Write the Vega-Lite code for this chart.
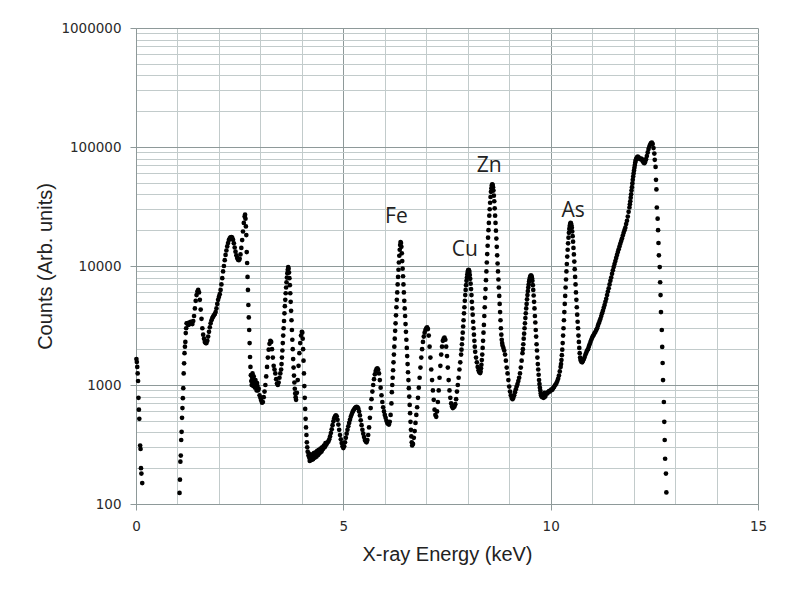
{
  "$schema": "https://vega.github.io/schema/vega-lite/v6.json",
  "width": 622,
  "height": 476,
  "autosize": {"type": "none"},
  "padding": {"left": 136, "top": 28, "right": 33, "bottom": 89},
  "background": "white",
  "config": {"view": {"stroke": null}},
  "datasets": {
    "spectrum": [
      {"keV":0.01,"counts":1650},{"keV":0.02,"counts":1560},{"keV":0.03,"counts":1420},{"keV":0.04,"counts":1250},{"keV":0.05,"counts":1080},{"keV":0.06,"counts":780},{"keV":0.07,"counts":620},{"keV":0.08,"counts":520},{"keV":0.10,"counts":310},{"keV":0.11,"counts":290},{"keV":0.12,"counts":200},{"keV":0.13,"counts":180},{"keV":0.15,"counts":150},
      {"keV":1.05,"counts":124},{"keV":1.06,"counts":160},{"keV":1.07,"counts":227},{"keV":1.08,"counts":255},{"keV":1.09,"counts":345},{"keV":1.10,"counts":404},{"keV":1.11,"counts":530},{"keV":1.12,"counts":640},{"keV":1.13,"counts":775},{"keV":1.14,"counts":940},{"keV":1.15,"counts":1250},{"keV":1.16,"counts":1520},{"keV":1.17,"counts":1850},{"keV":1.18,"counts":2100},{"keV":1.19,"counts":2300},{"keV":1.20,"counts":2730},{"keV":1.21,"counts":3000},{"keV":1.22,"counts":3300},
      {"keV":1.24,"counts":3300},{"keV":1.26,"counts":3200},{"keV":1.28,"counts":3350},{"keV":1.30,"counts":3250},{"keV":1.32,"counts":3400},{"keV":1.34,"counts":3300},{"keV":1.36,"counts":3250},{"keV":1.38,"counts":3450},{"keV":1.40,"counts":3800},{"keV":1.42,"counts":4400},{"keV":1.44,"counts":5100},{"keV":1.46,"counts":5700},{"keV":1.48,"counts":6100},{"keV":1.50,"counts":6300},{"keV":1.52,"counts":6000},{"keV":1.54,"counts":5200},{"keV":1.56,"counts":4300},{"keV":1.58,"counts":3600},{"keV":1.60,"counts":3000},{"keV":1.62,"counts":2650},{"keV":1.64,"counts":2450},{"keV":1.66,"counts":2300},{"keV":1.68,"counts":2250},{"keV":1.70,"counts":2250},{"keV":1.72,"counts":2350},{"keV":1.74,"counts":2550},{"keV":1.76,"counts":2800},{"keV":1.78,"counts":3050},{"keV":1.80,"counts":3300},{"keV":1.82,"counts":3500},{"keV":1.84,"counts":3650},{"keV":1.86,"counts":3750},{"keV":1.88,"counts":3850},{"keV":1.90,"counts":3950},{"keV":1.92,"counts":4100},{"keV":1.94,"counts":4400},{"keV":1.96,"counts":4800},{"keV":1.98,"counts":5200},{"keV":2.00,"counts":5500},{"keV":2.02,"counts":5800},{"keV":2.04,"counts":6300},{"keV":2.06,"counts":7000},{"keV":2.08,"counts":7900},{"keV":2.10,"counts":9000},{"keV":2.12,"counts":10000},{"keV":2.14,"counts":11200},{"keV":2.16,"counts":12400},{"keV":2.18,"counts":13500},{"keV":2.20,"counts":14600},{"keV":2.22,"counts":15600},{"keV":2.24,"counts":16500},{"keV":2.26,"counts":17100},{"keV":2.28,"counts":17400},{"keV":2.30,"counts":17500},{"keV":2.32,"counts":17300},{"keV":2.34,"counts":16600},{"keV":2.36,"counts":15500},{"keV":2.38,"counts":14300},{"keV":2.40,"counts":13200},{"keV":2.42,"counts":12300},{"keV":2.44,"counts":11700},{"keV":2.46,"counts":11300},{"keV":2.48,"counts":11200},{"keV":2.50,"counts":11500},{"keV":2.52,"counts":12500},{"keV":2.54,"counts":14200},{"keV":2.56,"counts":16500},{"keV":2.58,"counts":19500},{"keV":2.60,"counts":23000},{"keV":2.62,"counts":26000},{"keV":2.63,"counts":27000},
      {"keV":2.64,"counts":25000},{"keV":2.65,"counts":21500},{"keV":2.66,"counts":18200},{"keV":2.67,"counts":13100},{"keV":2.68,"counts":10600},{"keV":2.69,"counts":8100},{"keV":2.70,"counts":6300},{"keV":2.71,"counts":4700},{"keV":2.72,"counts":3700},{"keV":2.73,"counts":2900},{"keV":2.74,"counts":2250},{"keV":2.75,"counts":1720},{"keV":2.76,"counts":1420},{"keV":2.77,"counts":1210},{"keV":2.78,"counts":1080},
      {"keV":2.79,"counts":1000},{"keV":2.80,"counts":1150},{"keV":2.81,"counts":1250},{"keV":2.82,"counts":1030},{"keV":2.83,"counts":980},{"keV":2.84,"counts":1180},{"keV":2.85,"counts":1100},{"keV":2.86,"counts":1000},{"keV":2.87,"counts":950},{"keV":2.88,"counts":1100},{"keV":2.89,"counts":1050},{"keV":2.90,"counts":960},{"keV":2.91,"counts":900},{"keV":2.92,"counts":1040},{"keV":2.93,"counts":980},{"keV":2.94,"counts":900},{"keV":2.96,"counts":930},{"keV":2.98,"counts":820},{"keV":3.00,"counts":780},{"keV":3.02,"counts":740},{"keV":3.04,"counts":710},{"keV":3.06,"counts":720},{"keV":3.08,"counts":790},{"keV":3.10,"counts":880},{"keV":3.12,"counts":1000},{"keV":3.14,"counts":1180},{"keV":3.16,"counts":1420},{"keV":3.18,"counts":1700},{"keV":3.20,"counts":1980},{"keV":3.22,"counts":2220},{"keV":3.24,"counts":2350},{"keV":3.26,"counts":2300},{"keV":3.28,"counts":2000},{"keV":3.30,"counts":1700},{"keV":3.32,"counts":1450},{"keV":3.34,"counts":1350},{"keV":3.36,"counts":1250},{"keV":3.38,"counts":1120},{"keV":3.40,"counts":1030},{"keV":3.42,"counts":1000},{"keV":3.44,"counts":1050},{"keV":3.46,"counts":1150},{"keV":3.48,"counts":1250},
      {"keV":3.50,"counts":1350},{"keV":3.51,"counts":1500},{"keV":3.52,"counts":1700},{"keV":3.53,"counts":1950},{"keV":3.54,"counts":2250},{"keV":3.55,"counts":2600},{"keV":3.56,"counts":3000},{"keV":3.57,"counts":3450},{"keV":3.58,"counts":4000},{"keV":3.59,"counts":4600},{"keV":3.60,"counts":5200},{"keV":3.61,"counts":5900},{"keV":3.62,"counts":6600},{"keV":3.63,"counts":7300},{"keV":3.64,"counts":8000},{"keV":3.65,"counts":8700},{"keV":3.66,"counts":9300},{"keV":3.67,"counts":9800},{"keV":3.68,"counts":9500},{"keV":3.69,"counts":8800},{"keV":3.70,"counts":7900},{"keV":3.71,"counts":6900},{"keV":3.72,"counts":5900},{"keV":3.73,"counts":5000},{"keV":3.74,"counts":4200},{"keV":3.75,"counts":3500},{"keV":3.76,"counts":2900},{"keV":3.77,"counts":2400},{"keV":3.78,"counts":2000},{"keV":3.79,"counts":1650},{"keV":3.80,"counts":1400},{"keV":3.81,"counts":1200},{"keV":3.82,"counts":1050},{"keV":3.83,"counts":930},{"keV":3.84,"counts":850},{"keV":3.85,"counts":790},{"keV":3.86,"counts":750},
      {"keV":3.88,"counts":860},{"keV":3.90,"counts":1100},{"keV":3.92,"counts":1450},{"keV":3.94,"counts":1850},{"keV":3.96,"counts":2250},{"keV":3.98,"counts":2600},{"keV":4.00,"counts":2800},{"keV":4.01,"counts":2750},{"keV":4.02,"counts":2450},{"keV":4.03,"counts":2000},{"keV":4.04,"counts":1600},{"keV":4.05,"counts":1250},{"keV":4.06,"counts":980},{"keV":4.07,"counts":780},{"keV":4.08,"counts":630},{"keV":4.09,"counts":520},{"keV":4.10,"counts":440},{"keV":4.11,"counts":380},{"keV":4.12,"counts":330},{"keV":4.13,"counts":300},{"keV":4.14,"counts":275},
      {"keV":4.16,"counts":255},{"keV":4.17,"counts":265},{"keV":4.18,"counts":245},{"keV":4.19,"counts":230},{"keV":4.20,"counts":240},{"keV":4.21,"counts":258},{"keV":4.22,"counts":250},{"keV":4.23,"counts":240},{"keV":4.24,"counts":235},{"keV":4.25,"counts":262},{"keV":4.26,"counts":250},{"keV":4.27,"counts":238},{"keV":4.28,"counts":245},{"keV":4.29,"counts":268},{"keV":4.30,"counts":258},{"keV":4.31,"counts":245},{"keV":4.32,"counts":250},{"keV":4.33,"counts":272},{"keV":4.34,"counts":262},{"keV":4.35,"counts":250},{"keV":4.36,"counts":255},{"keV":4.37,"counts":280},{"keV":4.38,"counts":268},{"keV":4.39,"counts":258},{"keV":4.40,"counts":262},{"keV":4.41,"counts":285},{"keV":4.42,"counts":275},{"keV":4.43,"counts":268},{"keV":4.44,"counts":272},{"keV":4.45,"counts":292},{"keV":4.46,"counts":285},{"keV":4.47,"counts":275},{"keV":4.48,"counts":282},{"keV":4.49,"counts":300},{"keV":4.50,"counts":295},{"keV":4.51,"counts":290},{"keV":4.52,"counts":298},{"keV":4.53,"counts":310},{"keV":4.54,"counts":305},{"keV":4.55,"counts":300},{"keV":4.56,"counts":310},{"keV":4.57,"counts":325},{"keV":4.58,"counts":318},{"keV":4.59,"counts":315},{"keV":4.60,"counts":325},{"keV":4.62,"counts":330},{"keV":4.64,"counts":335},{"keV":4.66,"counts":350},{"keV":4.68,"counts":370},{"keV":4.70,"counts":395},{"keV":4.72,"counts":425},{"keV":4.74,"counts":460},{"keV":4.76,"counts":495},{"keV":4.78,"counts":525},{"keV":4.80,"counts":545},{"keV":4.82,"counts":555},{"keV":4.84,"counts":545},{"keV":4.86,"counts":510},{"keV":4.88,"counts":465},{"keV":4.90,"counts":420},{"keV":4.92,"counts":380},{"keV":4.94,"counts":350},{"keV":4.96,"counts":325},{"keV":4.98,"counts":305},{"keV":5.00,"counts":295},{"keV":5.02,"counts":305},{"keV":5.04,"counts":330},{"keV":5.06,"counts":360},{"keV":5.08,"counts":390},{"keV":5.10,"counts":420},{"keV":5.12,"counts":450},{"keV":5.14,"counts":480},{"keV":5.16,"counts":510},{"keV":5.18,"counts":540},{"keV":5.20,"counts":565},{"keV":5.22,"counts":590},{"keV":5.24,"counts":610},{"keV":5.26,"counts":625},{"keV":5.28,"counts":640},{"keV":5.30,"counts":650},{"keV":5.32,"counts":655},{"keV":5.34,"counts":650},{"keV":5.36,"counts":635},{"keV":5.38,"counts":600},{"keV":5.40,"counts":555},{"keV":5.42,"counts":505},{"keV":5.44,"counts":460},{"keV":5.46,"counts":420},{"keV":5.48,"counts":390},{"keV":5.50,"counts":365},{"keV":5.52,"counts":345},{"keV":5.54,"counts":335},{"keV":5.56,"counts":330},{"keV":5.58,"counts":345},{"keV":5.60,"counts":380},{"keV":5.62,"counts":440},{"keV":5.64,"counts":530},{"keV":5.66,"counts":640},{"keV":5.68,"counts":760},{"keV":5.70,"counts":880},{"keV":5.72,"counts":1000},{"keV":5.74,"counts":1120},{"keV":5.76,"counts":1230},{"keV":5.78,"counts":1310},{"keV":5.80,"counts":1360},{"keV":5.82,"counts":1380},{"keV":5.84,"counts":1350},{"keV":5.86,"counts":1250},{"keV":5.88,"counts":1100},{"keV":5.90,"counts":950},{"keV":5.92,"counts":820},{"keV":5.94,"counts":720},{"keV":5.96,"counts":650},{"keV":5.98,"counts":600},{"keV":6.00,"counts":560},{"keV":6.02,"counts":530},{"keV":6.04,"counts":500},{"keV":6.06,"counts":480},{"keV":6.08,"counts":470},{"keV":6.10,"counts":465},{"keV":6.12,"counts":490},{"keV":6.14,"counts":560},{"keV":6.16,"counts":700},
      {"keV":6.17,"counts":870},{"keV":6.18,"counts":1000},{"keV":6.19,"counts":1150},{"keV":6.20,"counts":1330},{"keV":6.21,"counts":1550},{"keV":6.22,"counts":1800},{"keV":6.23,"counts":2100},{"keV":6.24,"counts":2450},{"keV":6.25,"counts":2850},{"keV":6.26,"counts":3300},{"keV":6.27,"counts":3850},{"keV":6.28,"counts":4500},{"keV":6.29,"counts":5200},{"keV":6.30,"counts":6000},{"keV":6.31,"counts":7000},{"keV":6.32,"counts":8100},{"keV":6.33,"counts":9300},{"keV":6.34,"counts":10700},{"keV":6.35,"counts":12200},{"keV":6.36,"counts":13700},{"keV":6.37,"counts":15000},{"keV":6.38,"counts":15900},{"keV":6.39,"counts":15600},{"keV":6.40,"counts":14500},{"keV":6.41,"counts":12800},{"keV":6.42,"counts":11000},{"keV":6.43,"counts":9500},{"keV":6.44,"counts":8200},{"keV":6.45,"counts":7000},{"keV":6.46,"counts":6000},{"keV":6.47,"counts":5100},{"keV":6.48,"counts":4400},{"keV":6.49,"counts":3800},{"keV":6.50,"counts":3250},{"keV":6.51,"counts":2800},{"keV":6.52,"counts":2400},{"keV":6.53,"counts":2050},{"keV":6.54,"counts":1750},{"keV":6.55,"counts":1500},{"keV":6.56,"counts":1280},{"keV":6.57,"counts":1100},{"keV":6.58,"counts":940},{"keV":6.59,"counts":800},{"keV":6.60,"counts":680},{"keV":6.61,"counts":580},{"keV":6.62,"counts":490},{"keV":6.63,"counts":420},{"keV":6.64,"counts":370},{"keV":6.65,"counts":330},{"keV":6.66,"counts":310},{"keV":6.68,"counts":320},
      {"keV":6.70,"counts":360},{"keV":6.72,"counts":410},{"keV":6.74,"counts":480},{"keV":6.76,"counts":560},{"keV":6.78,"counts":650},{"keV":6.80,"counts":780},{"keV":6.82,"counts":950},{"keV":6.84,"counts":1150},{"keV":6.86,"counts":1400},{"keV":6.88,"counts":1700},{"keV":6.90,"counts":2000},{"keV":6.92,"counts":2300},{"keV":6.94,"counts":2550},{"keV":6.96,"counts":2750},{"keV":6.98,"counts":2900},{"keV":7.00,"counts":3000},{"keV":7.02,"counts":3050},{"keV":7.04,"counts":2950},{"keV":7.06,"counts":2600},{"keV":7.08,"counts":2100},{"keV":7.10,"counts":1700},{"keV":7.12,"counts":1350},{"keV":7.14,"counts":1100},{"keV":7.16,"counts":900},{"keV":7.18,"counts":750},{"keV":7.20,"counts":620},{"keV":7.22,"counts":560},{"keV":7.24,"counts":540},{"keV":7.26,"counts":600},{"keV":7.28,"counts":720},{"keV":7.30,"counts":900},{"keV":7.32,"counts":1150},{"keV":7.34,"counts":1450},{"keV":7.36,"counts":1800},{"keV":7.38,"counts":2100},{"keV":7.40,"counts":2350},{"keV":7.42,"counts":2450},{"keV":7.44,"counts":2500},{"keV":7.46,"counts":2400},{"keV":7.48,"counts":2100},{"keV":7.50,"counts":1750},{"keV":7.52,"counts":1400},{"keV":7.54,"counts":1100},{"keV":7.56,"counts":900},{"keV":7.58,"counts":780},{"keV":7.60,"counts":700},{"keV":7.62,"counts":660},{"keV":7.64,"counts":640},{"keV":7.66,"counts":650},{"keV":7.68,"counts":660},{"keV":7.70,"counts":690},{"keV":7.72,"counts":760},{"keV":7.74,"counts":880},{"keV":7.76,"counts":1000},{"keV":7.78,"counts":1150},{"keV":7.80,"counts":1350},{"keV":7.82,"counts":1550},
      {"keV":7.84,"counts":1800},{"keV":7.85,"counts":1980},{"keV":7.86,"counts":2200},{"keV":7.87,"counts":2450},{"keV":7.88,"counts":2750},{"keV":7.89,"counts":3100},{"keV":7.90,"counts":3500},{"keV":7.91,"counts":4000},{"keV":7.92,"counts":4500},{"keV":7.93,"counts":5100},{"keV":7.94,"counts":5700},{"keV":7.95,"counts":6300},{"keV":7.96,"counts":6900},{"keV":7.97,"counts":7500},{"keV":7.98,"counts":8000},{"keV":7.99,"counts":8500},{"keV":8.00,"counts":8900},{"keV":8.01,"counts":9200},{"keV":8.02,"counts":9300},{"keV":8.03,"counts":9200},{"keV":8.04,"counts":8900},{"keV":8.05,"counts":8400},{"keV":8.06,"counts":7800},{"keV":8.07,"counts":7100},{"keV":8.08,"counts":6400},{"keV":8.09,"counts":5700},{"keV":8.10,"counts":5000},{"keV":8.11,"counts":4400},{"keV":8.12,"counts":3900},{"keV":8.13,"counts":3400},{"keV":8.14,"counts":3000},{"keV":8.15,"counts":2650},{"keV":8.16,"counts":2350},{"keV":8.17,"counts":2100},{"keV":8.18,"counts":1900},{"keV":8.20,"counts":1700},{"keV":8.22,"counts":1550},{"keV":8.24,"counts":1420},{"keV":8.26,"counts":1330},{"keV":8.28,"counts":1280},{"keV":8.30,"counts":1260},
      {"keV":8.31,"counts":1300},{"keV":8.32,"counts":1380},{"keV":8.33,"counts":1480},{"keV":8.34,"counts":1620},{"keV":8.35,"counts":1800},{"keV":8.36,"counts":2050},{"keV":8.37,"counts":2350},{"keV":8.38,"counts":2750},{"keV":8.39,"counts":3200},{"keV":8.40,"counts":3800},{"keV":8.41,"counts":4500},{"keV":8.42,"counts":5400},{"keV":8.43,"counts":6400},{"keV":8.44,"counts":7600},{"keV":8.45,"counts":9000},{"keV":8.46,"counts":10700},{"keV":8.47,"counts":12600},{"keV":8.48,"counts":14800},{"keV":8.49,"counts":17300},{"keV":8.50,"counts":20000},{"keV":8.51,"counts":23000},{"keV":8.52,"counts":26500},{"keV":8.53,"counts":30000},{"keV":8.54,"counts":34000},{"keV":8.55,"counts":38000},{"keV":8.56,"counts":42000},{"keV":8.57,"counts":45000},{"keV":8.58,"counts":47500},{"keV":8.59,"counts":48500},{"keV":8.60,"counts":48000},{"keV":8.61,"counts":46000},{"keV":8.62,"counts":43000},{"keV":8.63,"counts":39000},{"keV":8.64,"counts":35000},{"keV":8.65,"counts":30500},{"keV":8.66,"counts":26500},{"keV":8.67,"counts":23000},{"keV":8.68,"counts":19800},{"keV":8.69,"counts":17000},{"keV":8.70,"counts":14500},{"keV":8.71,"counts":12300},{"keV":8.72,"counts":10500},{"keV":8.73,"counts":9000},{"keV":8.74,"counts":7700},{"keV":8.75,"counts":6600},{"keV":8.76,"counts":5600},{"keV":8.77,"counts":4800},{"keV":8.78,"counts":4100},{"keV":8.79,"counts":3500},{"keV":8.80,"counts":3000},{"keV":8.81,"counts":2650},{"keV":8.82,"counts":2400},{"keV":8.83,"counts":2250},{"keV":8.84,"counts":2150},{"keV":8.86,"counts":2050},{"keV":8.88,"counts":1950},{"keV":8.90,"counts":1800},{"keV":8.92,"counts":1600},{"keV":8.94,"counts":1400},{"keV":8.96,"counts":1250},{"keV":8.98,"counts":1100},{"keV":9.00,"counts":970},{"keV":9.02,"counts":880},{"keV":9.04,"counts":820},{"keV":9.06,"counts":780},{"keV":9.08,"counts":760},{"keV":9.10,"counts":780},{"keV":9.12,"counts":820},{"keV":9.14,"counts":870},{"keV":9.16,"counts":920},{"keV":9.18,"counts":970},{"keV":9.20,"counts":1020},{"keV":9.22,"counts":1080},{"keV":9.24,"counts":1150},{"keV":9.26,"counts":1250},{"keV":9.28,"counts":1400},{"keV":9.30,"counts":1600},{"keV":9.32,"counts":1850},{"keV":9.33,"counts":2000},{"keV":9.34,"counts":2200},{"keV":9.35,"counts":2450},{"keV":9.36,"counts":2700},{"keV":9.37,"counts":3000},{"keV":9.38,"counts":3300},{"keV":9.39,"counts":3650},{"keV":9.40,"counts":4000},{"keV":9.41,"counts":4400},{"keV":9.42,"counts":4800},{"keV":9.43,"counts":5250},{"keV":9.44,"counts":5700},{"keV":9.45,"counts":6150},{"keV":9.46,"counts":6600},{"keV":9.47,"counts":7000},{"keV":9.48,"counts":7400},{"keV":9.49,"counts":7700},{"keV":9.50,"counts":8000},{"keV":9.51,"counts":8200},{"keV":9.52,"counts":8300},{"keV":9.53,"counts":8300},{"keV":9.54,"counts":8200},{"keV":9.55,"counts":7900},{"keV":9.56,"counts":7500},{"keV":9.57,"counts":6900},{"keV":9.58,"counts":6300},{"keV":9.59,"counts":5650},{"keV":9.60,"counts":5000},{"keV":9.61,"counts":4400},{"keV":9.62,"counts":3800},{"keV":9.63,"counts":3350},{"keV":9.64,"counts":2900},{"keV":9.65,"counts":2550},{"keV":9.66,"counts":2200},{"keV":9.67,"counts":1950},{"keV":9.68,"counts":1700},{"keV":9.69,"counts":1500},{"keV":9.70,"counts":1350},{"keV":9.71,"counts":1220},{"keV":9.72,"counts":1100},{"keV":9.73,"counts":1020},{"keV":9.74,"counts":950},{"keV":9.75,"counts":900},{"keV":9.76,"counts":850},{"keV":9.77,"counts":820},{"keV":9.78,"counts":800},
      {"keV":9.80,"counts":790},{"keV":9.81,"counts":830},{"keV":9.82,"counts":810},{"keV":9.83,"counts":780},{"keV":9.84,"counts":830},{"keV":9.85,"counts":860},{"keV":9.86,"counts":820},{"keV":9.87,"counts":800},{"keV":9.88,"counts":840},{"keV":9.90,"counts":860},{"keV":9.92,"counts":850},{"keV":9.94,"counts":870},{"keV":9.96,"counts":890},{"keV":9.98,"counts":880},{"keV":10.00,"counts":900},{"keV":10.02,"counts":920},{"keV":10.04,"counts":910},{"keV":10.06,"counts":940},{"keV":10.08,"counts":960},{"keV":10.10,"counts":990},{"keV":10.12,"counts":1010},{"keV":10.14,"counts":1040},{"keV":10.16,"counts":1080},{"keV":10.18,"counts":1130},{"keV":10.20,"counts":1200},{"keV":10.22,"counts":1300},{"keV":10.24,"counts":1420},
      {"keV":10.25,"counts":1500},{"keV":10.26,"counts":1620},{"keV":10.27,"counts":1780},{"keV":10.28,"counts":1980},{"keV":10.29,"counts":2250},{"keV":10.30,"counts":2600},{"keV":10.31,"counts":3000},{"keV":10.32,"counts":3500},{"keV":10.33,"counts":4100},{"keV":10.34,"counts":4800},{"keV":10.35,"counts":5600},{"keV":10.36,"counts":6600},{"keV":10.37,"counts":7700},{"keV":10.38,"counts":9000},{"keV":10.39,"counts":10400},{"keV":10.40,"counts":12000},{"keV":10.41,"counts":13700},{"keV":10.42,"counts":15500},{"keV":10.43,"counts":17300},{"keV":10.44,"counts":19000},{"keV":10.45,"counts":20500},{"keV":10.46,"counts":21700},{"keV":10.47,"counts":22500},{"keV":10.48,"counts":23000},{"keV":10.49,"counts":22800},{"keV":10.50,"counts":22000},{"keV":10.51,"counts":21000},{"keV":10.52,"counts":19500},{"keV":10.53,"counts":17800},{"keV":10.54,"counts":16000},{"keV":10.55,"counts":14200},{"keV":10.56,"counts":12500},{"keV":10.57,"counts":10900},{"keV":10.58,"counts":9400},{"keV":10.59,"counts":8100},{"keV":10.60,"counts":7000},{"keV":10.61,"counts":6000},{"keV":10.62,"counts":5200},{"keV":10.63,"counts":4500},{"keV":10.64,"counts":3900},{"keV":10.65,"counts":3400},{"keV":10.66,"counts":3000},{"keV":10.67,"counts":2600},{"keV":10.68,"counts":2300},{"keV":10.69,"counts":2050},{"keV":10.70,"counts":1850},{"keV":10.71,"counts":1700},{"keV":10.72,"counts":1620},{"keV":10.74,"counts":1570},{"keV":10.76,"counts":1550},{"keV":10.78,"counts":1600},
      {"keV":10.80,"counts":1650},{"keV":10.82,"counts":1720},{"keV":10.84,"counts":1800},{"keV":10.86,"counts":1880},{"keV":10.88,"counts":1950},{"keV":10.90,"counts":2000},{"keV":10.92,"counts":2100},{"keV":10.94,"counts":2200},{"keV":10.96,"counts":2300},{"keV":10.98,"counts":2400},{"keV":11.00,"counts":2500},{"keV":11.02,"counts":2580},{"keV":11.04,"counts":2650},{"keV":11.06,"counts":2730},{"keV":11.08,"counts":2800},{"keV":11.10,"counts":2900},{"keV":11.12,"counts":3000},{"keV":11.14,"counts":3150},{"keV":11.16,"counts":3300},{"keV":11.18,"counts":3450},{"keV":11.20,"counts":3600},{"keV":11.22,"counts":3800},{"keV":11.24,"counts":4000},{"keV":11.26,"counts":4200},{"keV":11.28,"counts":4450},{"keV":11.30,"counts":4700},{"keV":11.32,"counts":5000},{"keV":11.34,"counts":5300},{"keV":11.36,"counts":5700},{"keV":11.38,"counts":6100},{"keV":11.40,"counts":6500},{"keV":11.42,"counts":7000},{"keV":11.44,"counts":7500},{"keV":11.46,"counts":8000},{"keV":11.48,"counts":8600},{"keV":11.50,"counts":9200},{"keV":11.52,"counts":9800},{"keV":11.54,"counts":10400},{"keV":11.56,"counts":11000},{"keV":11.58,"counts":11700},{"keV":11.60,"counts":12400},{"keV":11.62,"counts":13100},{"keV":11.64,"counts":13800},{"keV":11.66,"counts":14600},{"keV":11.68,"counts":15400},{"keV":11.70,"counts":16200},{"keV":11.72,"counts":17000},{"keV":11.74,"counts":18000},{"keV":11.76,"counts":19000},{"keV":11.78,"counts":20000},{"keV":11.80,"counts":21000},{"keV":11.82,"counts":22500},{"keV":11.84,"counts":24000},{"keV":11.86,"counts":26000},{"keV":11.88,"counts":28500},{"keV":11.90,"counts":31000},{"keV":11.91,"counts":33000},{"keV":11.92,"counts":35000},{"keV":11.93,"counts":37500},{"keV":11.94,"counts":40000},{"keV":11.95,"counts":43000},{"keV":11.96,"counts":46000},{"keV":11.97,"counts":49500},{"keV":11.98,"counts":53000},{"keV":11.99,"counts":56500},{"keV":12.00,"counts":60000},{"keV":12.01,"counts":63500},{"keV":12.02,"counts":67000},{"keV":12.03,"counts":70500},{"keV":12.04,"counts":74000},{"keV":12.05,"counts":77000},{"keV":12.06,"counts":79000},{"keV":12.08,"counts":82000},{"keV":12.10,"counts":83000},{"keV":12.12,"counts":82000},{"keV":12.14,"counts":80000},{"keV":12.16,"counts":79000},{"keV":12.18,"counts":80000},{"keV":12.20,"counts":79000},{"keV":12.22,"counts":76000},{"keV":12.24,"counts":74000},{"keV":12.26,"counts":73000},{"keV":12.28,"counts":75000},{"keV":12.30,"counts":79000},{"keV":12.32,"counts":84000},{"keV":12.34,"counts":90000},{"keV":12.36,"counts":96000},{"keV":12.38,"counts":101000},{"keV":12.40,"counts":105000},{"keV":12.42,"counts":108000},{"keV":12.44,"counts":109000},{"keV":12.46,"counts":106000},{"keV":12.48,"counts":98000},
      {"keV":12.50,"counts":88000},{"keV":12.51,"counts":78000},{"keV":12.53,"counts":68000},{"keV":12.54,"counts":53000},{"keV":12.55,"counts":44000},{"keV":12.56,"counts":31000},{"keV":12.58,"counts":25000},{"keV":12.59,"counts":20000},{"keV":12.60,"counts":15600},{"keV":12.61,"counts":12300},{"keV":12.63,"counts":9800},{"keV":12.64,"counts":7300},{"keV":12.65,"counts":5700},{"keV":12.66,"counts":4100},{"keV":12.68,"counts":2900},{"keV":12.69,"counts":2090},{"keV":12.70,"counts":1530},{"keV":12.71,"counts":1100},{"keV":12.73,"counts":720},{"keV":12.74,"counts":490},{"keV":12.75,"counts":345},{"keV":12.76,"counts":240},{"keV":12.78,"counts":180},{"keV":12.79,"counts":125}
    ],
    "labels": [
      {"keV":6.28,"counts":22980,"label":"Fe"},
      {"keV":7.93,"counts":12140,"label":"Cu"},
      {"keV":8.52,"counts":62000,"label":"Zn"},
      {"keV":10.54,"counts":25960,"label":"As"}
    ]
  },
  "layer": [
    {
      "data": {"name": "spectrum"},
      "mark": {"type": "circle", "size": 22, "color": "#000000", "opacity": 1},
      "encoding": {
        "x": {
          "field": "keV", "type": "quantitative",
          "scale": {"domain": [0, 15], "nice": false, "zero": false},
          "axis": {
            "title": "X-ray Energy (keV)",
            "values": [0,1,2,3,4,5,6,7,8,9,10,11,12,13,14,15],
            "grid": true,
            "gridColor": {"condition": {"test": "datum.value % 5 === 0", "value": "#8e9999"}, "value": "#c2cbcb"},
            "gridWidth": 1,
            "labelExpr": "datum.value % 5 === 0 ? format(datum.value, 'd') : ''",
            "tickOpacity": {"condition": {"test": "datum.value % 5 === 0", "value": 1}, "value": 0},
            "tickSize": 6,
            "tickColor": "#8e9999",
            "domainColor": "#8e9999",
            "labelFont": "DejaVu Sans",
            "labelFontSize": 13.5,
            "labelColor": "#2a2a2a",
            "labelPadding": 9,
            "labelFlush": false,
            "labelOverlap": false,
            "titleFont": "Liberation Sans",
            "titleFontSize": 20,
            "titleFontWeight": "normal",
            "titleColor": "#222222",
            "titleBaseline": "alphabetic",
            "titleY": 56
          }
        },
        "y": {
          "field": "counts", "type": "quantitative",
          "scale": {"type": "log", "domain": [100, 1000000], "nice": false},
          "axis": {
            "title": "Counts (Arb. units)",
            "values": [100,200,300,400,500,600,700,800,900,1000,2000,3000,4000,5000,6000,7000,8000,9000,10000,20000,30000,40000,50000,60000,70000,80000,90000,100000,200000,300000,400000,500000,600000,700000,800000,900000,1000000],
            "grid": true,
            "gridColor": {"condition": {"test": "indexof([100,1000,10000,100000,1000000], datum.value) >= 0", "value": "#8e9999"}, "value": "#c2cbcb"},
            "gridWidth": 1,
            "labelExpr": "indexof([100,1000,10000,100000,1000000], datum.value) >= 0 ? format(datum.value, 'd') : ''",
            "tickOpacity": {"condition": {"test": "indexof([100,1000,10000,100000,1000000], datum.value) >= 0", "value": 1}, "value": 0},
            "tickSize": 6,
            "tickColor": "#8e9999",
            "domainColor": "#8e9999",
            "labelFont": "DejaVu Sans",
            "labelFontSize": 13.5,
            "labelColor": "#2a2a2a",
            "labelPadding": 9,
            "labelFlush": false,
            "labelOverlap": false,
            "titleFont": "Liberation Sans",
            "titleFontSize": 20,
            "titleFontWeight": "normal",
            "titleColor": "#222222",
            "titleBaseline": "middle",
            "titleX": -91
          }
        }
      }
    },
    {
      "data": {"name": "labels"},
      "mark": {"type": "text", "font": "Open Sans", "fontSize": 21, "color": "#222222", "align": "center", "baseline": "alphabetic"},
      "encoding": {
        "x": {"field": "keV", "type": "quantitative"},
        "y": {"field": "counts", "type": "quantitative"},
        "text": {"field": "label", "type": "nominal"}
      }
    }
  ]
}
